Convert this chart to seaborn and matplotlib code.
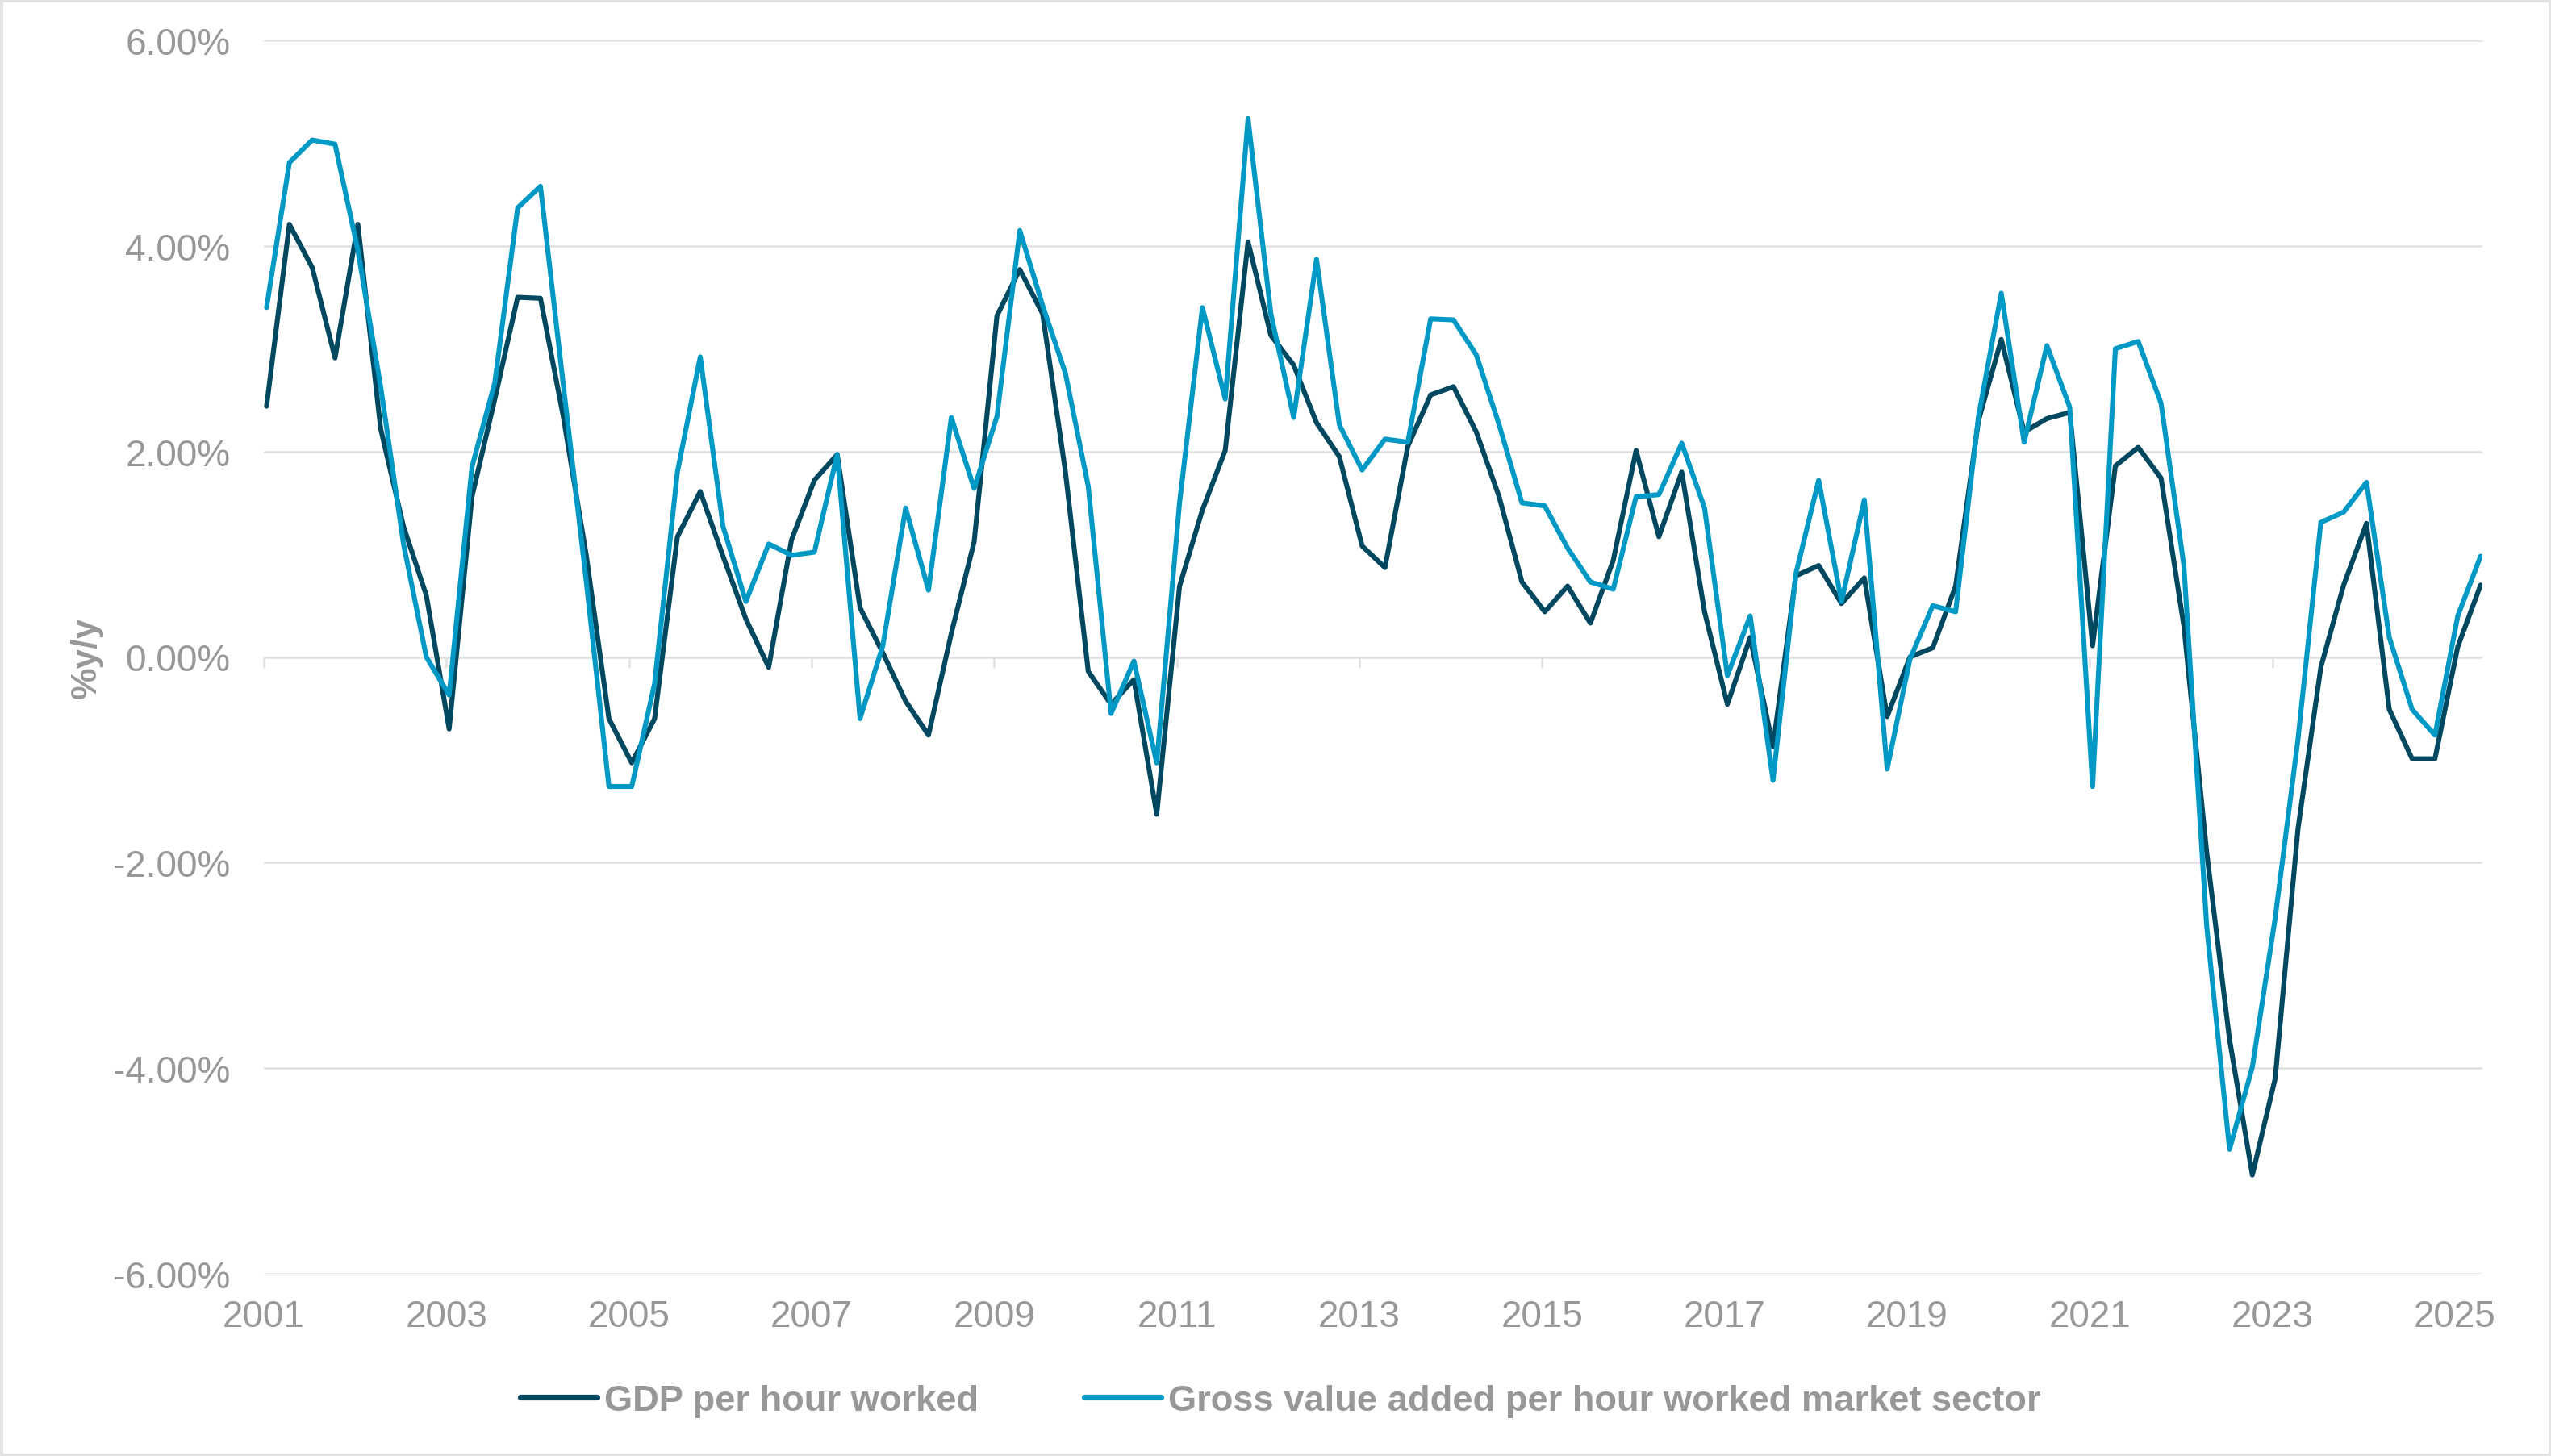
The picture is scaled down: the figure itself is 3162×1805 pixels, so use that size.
import numpy as np
import pandas as pd
import matplotlib
matplotlib.use("Agg")
import matplotlib.pyplot as plt
import seaborn as sns

# ---------------- data ----------------
quarters = pd.period_range("2001Q1", "2025Q2", freq="Q")

gdp_per_hour = [
    2.44, 4.21, 3.79, 2.91,     # 2001
    4.21, 2.22, 1.27, 0.60,     # 2002
    -0.70, 1.56, 2.51, 3.50,    # 2003
    3.49, 2.34, 1.00, -0.60,    # 2004
    -1.03, -0.60, 1.17, 1.61,   # 2005
    0.98, 0.37, -0.10, 1.14,    # 2006
    1.72, 1.97, 0.48, 0.04,     # 2007
    -0.43, -0.76, 0.23, 1.12,   # 2008
    3.32, 3.77, 3.34, 1.80,     # 2009
    -0.14, -0.46, -0.22, -1.53, # 2010
    0.69, 1.43, 2.01, 4.04,     # 2011
    3.13, 2.84, 2.28, 1.95,     # 2012
    1.08, 0.87, 2.05, 2.55,     # 2013
    2.63, 2.19, 1.56, 0.73,     # 2014
    0.44, 0.69, 0.33, 0.94,     # 2015
    2.01, 1.17, 1.80, 0.44,     # 2016
    -0.46, 0.19, -0.87, 0.79,   # 2017
    0.89, 0.52, 0.77, -0.58,    # 2018
    0.00, 0.09, 0.69, 2.30,     # 2019
    3.09, 2.19, 2.32, 2.38,     # 2020
    0.11, 1.86, 2.04, 1.74,     # 2021
    0.30, -1.90, -3.72, -5.04,  # 2022
    -4.10, -1.67, -0.10, 0.70,  # 2023
    1.30, -0.51, -0.99, -0.99,  # 2024
    0.10, 0.70,                 # 2025
]

gva_per_hour_market = [
    3.40, 4.81, 5.03, 4.99,     # 2001
    3.96, 2.63, 1.10, 0.00,     # 2002
    -0.37, 1.85, 2.67, 4.37,    # 2003
    4.58, 2.65, 0.75, -1.26,    # 2004
    -1.26, -0.26, 1.80, 2.92,   # 2005
    1.27, 0.54, 1.10, 0.99,     # 2006
    1.02, 1.97, -0.60, 0.11,    # 2007
    1.45, 0.65, 2.33, 1.64,     # 2008
    2.34, 4.15, 3.42, 2.76,     # 2009
    1.66, -0.55, -0.04, -1.03,  # 2010
    1.50, 3.40, 2.51, 5.24,     # 2011
    3.34, 2.33, 3.87, 2.26,     # 2012
    1.82, 2.12, 2.09, 3.29,     # 2013
    3.28, 2.94, 2.26, 1.50,     # 2014
    1.47, 1.06, 0.73, 0.66,     # 2015
    1.56, 1.58, 2.08, 1.45,     # 2016
    -0.18, 0.40, -1.20, 0.81,   # 2017
    1.72, 0.54, 1.53, -1.09,    # 2018
    -0.02, 0.50, 0.44, 2.34,    # 2019
    3.54, 2.09, 3.03, 2.43,     # 2020
    -1.26, 3.00, 3.07, 2.47,    # 2021
    0.89, -2.62, -4.79, -3.99,  # 2022
    -2.54, -0.80, 1.31, 1.41,   # 2023
    1.70, 0.19, -0.51, -0.76,   # 2024
    0.40, 0.98,                 # 2025
]

series_names = ["GDP per hour worked",
                "Gross value added per hour worked market sector"]
series_colors = ["#00485f", "#0099c6"]
tick_years = list(range(2001, 2026, 2))
y_ticks = [-6, -4, -2, 0, 2, 4, 6]
y_label = "%y/y"

# position of each quarter on a decimal-year axis
xpos = np.array([p.year + (p.quarter - 1) / 4 + 0.03 for p in quarters])

df = pd.concat([
    pd.DataFrame({"x": xpos, "value": gdp_per_hour, "series": series_names[0]}),
    pd.DataFrame({"x": xpos, "value": gva_per_hour_market, "series": series_names[1]}),
], ignore_index=True)

# ---------------- style ----------------
sns.set_theme(style="white")
plt.rcParams["font.family"] = ["Liberation Sans", "DejaVu Sans"]
grey_txt = "#989898"
grid_col = "#e1e1e1"

W, H, DPI = 3162, 1806, 200
fig = plt.figure(figsize=(W / DPI, H / DPI), dpi=DPI)
ax = fig.add_axes([327 / W, 1 - 1580 / H, 2750 / W, (1580 - 51) / H])

sns.lineplot(data=df, x="x", y="value", hue="series", hue_order=series_names,
             palette=series_colors, linewidth=2.2, ax=ax, legend=True)

ax.set_xlim(2001.0, 2025.30)
ax.set_ylim(-6, 6)
ax.set_yticks(y_ticks)
ax.set_yticklabels([f"{v:.2f}%" for v in y_ticks])
ax.set_xticks(tick_years)
ax.set_xticklabels([str(y) for y in tick_years])
ax.tick_params(axis="y", length=0, pad=15, labelsize=16.5, labelcolor=grey_txt)
ax.tick_params(axis="x", length=0, pad=11, labelsize=16.5, labelcolor=grey_txt)
ax.yaxis.grid(True, color=grid_col, linewidth=0.9)
ax.xaxis.grid(False)
ax.set_axisbelow(True)
for s in ax.spines.values():
    s.set_visible(False)
ax.set_xlabel("")
ax.set_ylabel(y_label, fontsize=16, fontweight="bold", color=grey_txt)
ax.yaxis.set_label_coords(-0.080, 0.5)
ax.yaxis.label.set_va("center")

# axis line at zero with small downward tick marks
sec = ax.secondary_xaxis(0.5)
sec.set_alignment("bottom")
sec.set_xticks(tick_years)
sec.tick_params(axis="x", direction="out", length=4.5, width=0.9,
                color=grid_col, labelbottom=False, labeltop=False)
for s in sec.spines.values():
    s.set_visible(False)

# legend
handles, labels = ax.get_legend_handles_labels()
for h in handles:
    h.set_linewidth(2.6)
ax.legend(handles, labels, loc="center", bbox_to_anchor=(0.502, 0.038),
          bbox_transform=fig.transFigure, ncol=2, frameon=False,
          handlelength=2.1, handletextpad=0.2, columnspacing=2.9,
          prop={"size": 16.3, "weight": "bold"}, labelcolor=grey_txt)

# light frame round the figure
fig.add_artist(plt.Rectangle((0, 0), 1, 1, transform=fig.transFigure,
                             fill=False, edgecolor="#e3e3e3", linewidth=2.5))

fig.savefig("out.png", dpi=DPI, facecolor="white")
